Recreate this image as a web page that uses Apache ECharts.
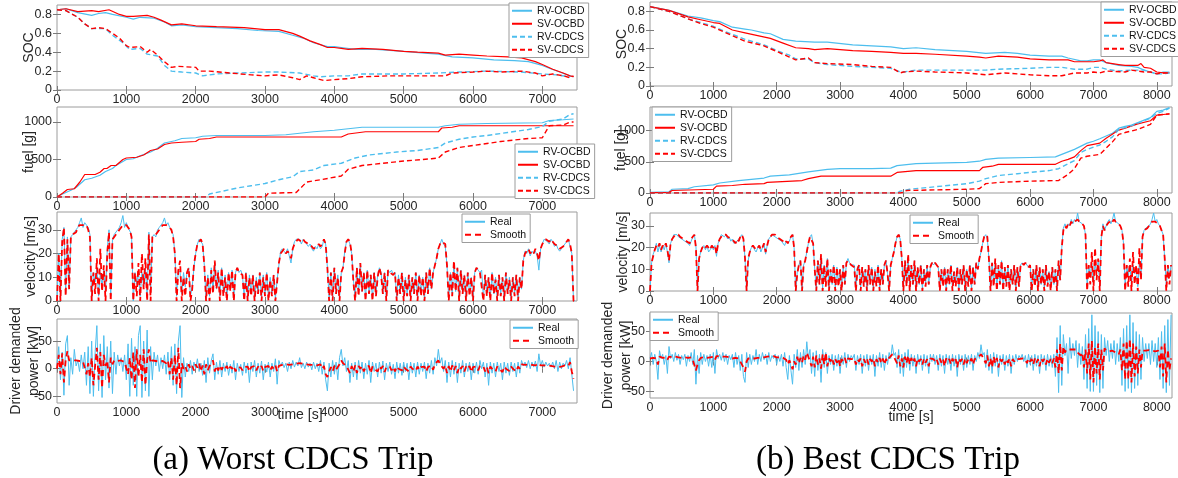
<!DOCTYPE html>
<html><head><meta charset="utf-8">
<script src="https://cdn.jsdelivr.net/npm/echarts@6/dist/echarts.min.js"></script>
<style>html,body{margin:0;padding:0;background:#fff}#c{width:1178px;height:478px}</style>
</head><body><div id="c"></div><script>
// ---------- tick labels ----------
const X_TICKS_A = [0,1000,2000,3000,4000,5000,6000,7000];
const X_TICKS_B = [0,1000,2000,3000,4000,5000,6000,7000,8000];
const SOC_TICKS = [0,0.2,0.4,0.6,0.8];
const FUEL_TICKS = [0,500,1000];
const VEL_TICKS = [0,10,20,30];
const POW_TICKS = [-50,0,50];

// ---------- (a) Worst CDCS trip : SOC [time s, SOC] ----------
const A_SOC_RV_OCBD = [[0,.85],[130,.86],[300,.82],[500,.79],[600,.81],[700,.82],[800,.80],[1000,.77],[1100,.75],[1200,.77],[1400,.76],[1550,.72],[1650,.68],[1800,.69],[2000,.67],[2300,.66],[2600,.65],[2900,.63],[3200,.62],[3400,.58],[3550,.55],[3700,.50],[3900,.46],[4000,.46],[4100,.45],[4300,.43],[4600,.43],[5000,.41],[5300,.39],[5500,.38],[5700,.35],[6000,.34],[6300,.32],[6600,.31],[6800,.30],[7000,.26],[7100,.23],[7250,.19],[7400,.15],[7450,.14]];
const A_SOC_SV_OCBD = [[0,.85],[130,.86],[300,.83],[500,.84],[600,.83],[750,.85],[900,.80],[1000,.78],[1100,.78],[1300,.79],[1400,.77],[1500,.74],[1650,.69],[1800,.70],[2000,.68],[2300,.67],[2700,.66],[3000,.64],[3200,.64],[3400,.60],[3500,.57],[3650,.52],[3800,.48],[3900,.45],[4000,.45],[4100,.44],[4200,.43],[4400,.44],[4700,.43],[5000,.41],[5200,.40],[5500,.39],[5600,.37],[5800,.38],[6000,.37],[6200,.36],[6500,.35],[6700,.34],[6900,.30],[7000,.27],[7150,.22],[7300,.18],[7400,.15],[7450,.14]];
const A_SOC_RV_CDCS = [[0,.85],[130,.84],[300,.77],[400,.70],[500,.65],[700,.65],[800,.58],[950,.50],[1050,.43],[1200,.44],[1300,.38],[1450,.36],[1550,.26],[1650,.20],[1800,.19],[2000,.18],[2100,.15],[2300,.17],[2600,.18],[3000,.19],[3200,.19],[3500,.18],[3700,.15],[3800,.14],[4000,.15],[4200,.15],[4400,.17],[5000,.17],[5500,.18],[5800,.19],[6200,.20],[6700,.19],[7000,.17],[7200,.16],[7400,.14]];
const A_SOC_SV_CDCS = [[0,.85],[130,.84],[300,.77],[400,.70],[500,.65],[600,.66],[700,.65],[800,.60],[900,.55],[1000,.47],[1050,.45],[1200,.46],[1300,.40],[1350,.43],[1450,.37],[1550,.30],[1650,.24],[1750,.25],[2000,.24],[2050,.20],[2200,.20],[2500,.18],[2800,.16],[3000,.15],[3200,.16],[3400,.13],[3500,.11],[3600,.15],[3700,.13],[3850,.10],[4000,.11],[4200,.12],[4400,.14],[4800,.15],[5200,.15],[5600,.15],[5700,.18],[6000,.19],[6200,.20],[6400,.19],[6700,.20],[6900,.18],[7000,.15],[7150,.17],[7300,.15],[7400,.13],[7450,.15]];

// ---------- (a) fuel [g] ----------
const A_FUEL_RV_OCBD = [[0,0],[80,40],[200,90],[280,130],[400,230],[500,250],[620,290],[700,340],[800,380],[850,420],[1000,500],[1100,510],[1200,550],[1350,600],[1450,650],[1550,720],[1700,750],[1800,780],[2000,790],[2100,810],[2300,820],[3000,820],[3300,830],[3500,850],[3700,870],[4000,890],[4200,910],[4400,930],[5500,930],[5600,950],[5800,970],[6200,980],[7000,990],[7100,1020],[7300,1030],[7450,1040]];
const A_FUEL_SV_OCBD = [[0,0],[80,50],[150,100],[250,110],[330,200],[400,300],[550,300],[620,330],[680,380],[720,380],[780,420],[850,420],[950,500],[1000,520],[1150,530],[1250,560],[1350,620],[1450,640],[1550,700],[1650,720],[1800,730],[2000,740],[2050,770],[2200,780],[2300,800],[4100,800],[4200,840],[4450,870],[5500,870],[5550,920],[5700,930],[5800,950],[7450,950]];
const A_FUEL_RV_CDCS = [[0,0],[2150,0],[2200,40],[2400,80],[2600,120],[2800,150],[3000,180],[3200,230],[3400,270],[3500,340],[3700,360],[3850,420],[4100,450],[4300,520],[4500,560],[4700,580],[4900,600],[5200,620],[5500,660],[5600,720],[5800,770],[6000,800],[6200,820],[6500,860],[6800,900],[7000,940],[7100,1010],[7300,1040],[7400,1100],[7450,1110]];
const A_FUEL_SV_CDCS = [[0,0],[3000,0],[3050,50],[3450,60],[3600,200],[3800,230],[4100,280],[4200,370],[4400,420],[4700,450],[5000,480],[5400,510],[5500,520],[5600,600],[5800,660],[6100,700],[6400,740],[6800,780],[7000,790],[7100,950],[7300,960],[7400,1000],[7450,1000]];

// ---------- (a) velocity [m/s], one value every 25 s ----------
const A_VEL_REAL = [0,20,0,26, 31,3,27,6, 27,28,29,30, 31,33,35,31, 33,32,31,28, 0,12,8,14, 2,12,6,13, 3,22,30,2, 26,28,28,30, 31,33,36,31, 33,31,31,28, 0,12,7,13, 2,12,6,14, 2,29,3,27, 28,27,30,31, 32,33,35,32, 33,31,31,28, 20,2,13,12, 3,12,6,12, 14,2,6,14, 20,24,26,26, 24,15,1,11, 2,14,4,16, 5,13,2,14, 3,11,1,12, 5,13,1,12, 14,12,13,11, 1,12,1,11, 3,11,1,10, 3,12,1,11, 3,12,1,10, 3,11,1,9, 15,21,22,21, 20,22,19,16, 22,25,26,26, 26,24,26,25, 25,23,24,22, 21,23,22,24, 22,23,26,24, 14,1,12,1, 14,3,11,1, 12,14,21,25, 26,24,20,9, 1,14,3,16, 4,12,1,13, 4,11,1,12, 3,11,14,12, 3,12,1,13, 12,13,11,12, 1,11,3,12, 1,10,3,11, 1,10,3,12, 1,11,3,10, 1,12,3,14, 5,12,15,18, 22,24,26,24, 23,15,1,12, 3,16,4,14, 1,13,3,11, 1,12,3,10, 1,12,14,13, 12,13,1,11, 3,10,1,12, 3,10,1,11, 3,10,1,12, 3,10,1,10, 3,11,1,10, 5,17,21,20, 22,19,21,20, 21,19,13,22, 24,26,26,25, 24,26,25,23, 24,22,21,22, 22,24,25,26, 23,20,0,0];
const A_VEL_SMOOTH = [0,20,0,25, 31,2,26,5, 27,28,28,29, 31,32,32,32, 32,32,30,27, 0,12,3,18, 0,22,4,15, 0,20,29,0, 26,27,28,29, 30,31,32,32, 32,31,30,27, 0,12,2,16, 0,20,5,18, 0,28,0,27, 27,28,29,30, 31,32,32,32, 32,31,30,27, 20,0,13,17, 0,10,2,12, 14,0,5,15, 20,24,25,26, 24,15,0,10, 0,13,3,17, 5,12,0,14, 2,10,0,12, 4,13,0,12, 14,12,12,11, 0,12,0,10, 2,11,0,9, 3,12,0,10, 2,12,0,9, 2,11,0,8, 16,20,21,22, 20,21,20,18, 22,24,25,26, 26,25,26,25, 25,24,24,23, 22,22,23,24, 23,24,26,24, 14,0,12,0, 14,3,10,0, 12,14,20,25, 26,25,20,8, 0,14,2,16, 4,12,0,13, 3,11,0,12, 2,10,14,11, 3,12,0,13, 12,12,11,12, 0,10,3,12, 0,9,2,11, 0,10,3,12, 0,11,2,10, 0,12,3,14, 5,12,15,18, 22,24,25,25, 24,15,0,12, 2,17,4,14, 0,13,3,11, 0,12,2,10, 0,12,14,13, 12,12,0,11, 2,10,0,12, 3,9,0,11, 2,10,0,12, 3,9,0,10, 2,11,0,10, 5,17,20,21, 22,20,21,20, 22,20,17,22, 24,25,26,26, 25,26,25,24, 24,23,22,22, 23,24,25,26, 24,20,0,0];

// ---------- (a) driver demanded power [kW], one value every 25 s ----------
const A_POW_REAL = [5,40,-20,30, -48,45,60,-30, 20,-10,35,5, 15,-5,25,0, 30,-30,40,-45, 50,-50,30,78, -40,45,-52,60, -20,40,-35,50, -45,30,-10,25, 5,20,-5,25, -20,45,-50,55, -30,40,-50,60, 78,-52,50,-40, 70,-50,40,-20, 30,5,25,-5, 20,0,25,-10, 30,-20,40,-30, 45,-45,50,78, -52,20,-15,10, -5,15,-10,12, 0,18,-5,10, -12,15,-25,20, -8,15,27,-20, 12,-10,15,-15, 10,-5,12,-12, 8,-8,15,-20, 10,-5,8,-12, 12,-8,10,-25, 12,-5,15,-15, 10,-8,14,-20, 8,-6,12,-15, 10,-5,18,-28, 15,5,12,2, 10,-5,12,0, 15,3,12,5, 20,2,10,0, 12,3,10,-2, 12,0,10,-5, 15,-10,12,-20, -40,10,-15,15, -10,12,-20,20, 35,5,20,-5, 15,-25,10,-15, 12,-20,15,-8, 12,-18,10,-10, 15,-25,12,-5, 10,-15,12,-8, 14,-20,10,-5, 12,-10,8,-18, 12,-8,10,-12, 12,-5,10,-20, 12,-8,10,-15, 12,-10,10,-5, 12,-18,10,-8, 15,-10,20,5, 35,10,20,-5, 15,-25,12,-15, 15,-10,12,-25, 10,-8,15,-15, 10,-5,12,-20, 10,-8,12,-10, 15,0,12,-15, 10,-30,12,-8, 10,-15,12,-5, 10,-20,12,-8, 10,-12,12,-5, 10,-15,12,-8, 15,5,12,2, 15,0,12,3, 14,-5,27,5, 15,3,12,5, 10,3,12,0, 15,-5,12,0, 10,5,15,0, 20,-10,-40];
const A_POW_SMOOTH = [0,25,-10,28, -25,15,32,15, 12,15,14,15, 16,14,16,13, 12,-10,10,-15, 20,-30,5,38, -20,30,-35,25, 5,15,-25,20, 8,15,12,14, 13,15,14,12, 10,-10,20,-20, 30,-35,35,-15, 25,-25,35,-30, 15,35,10,15, 12,14,12,13, 12,14,12,10, 15,-10,20,-20, 25,-30,38,-35, 10,0,5,-5, 8,0,5,-3, 8,2,10,-5, 6,-10,8,-3, 5,10,15,-5, 5,-3,6,-2, 4,0,5,-3, 4,0,5,-5, 3,0,2,-3, 3,0,4,-5, 3,0,5,-3, 4,0,5,-4, 3,0,5,-3, 4,0,6,-5, 5,8,7,6, 8,5,7,5, 8,6,9,8, 10,8,9,7, 8,6,7,5, 7,5,6,4, 8,0,5,-10, -15,-5,3,-5, 5,-2,3,8, 15,10,12,5, 8,-8,5,-5, 6,-8,5,0, 5,-5,3,0, 5,-8,4,0, 3,-5,5,0, 5,-6,3,0, 4,-3,3,-5, 4,0,3,-3, 4,0,3,-5, 4,0,3,-4, 4,-2,3,0, 4,-5,3,0, 6,-2,8,5, 15,8,10,0, 6,-8,5,-5, 6,-3,5,-8, 4,0,5,-5, 4,0,5,-6, 3,0,4,-3, 5,2,4,-5, 3,-8,4,0, 3,-5,4,0, 3,-6,4,0, 3,-4,4,0, 3,-5,4,0, 8,6,7,5, 8,5,7,5, 6,3,10,6, 8,6,7,6, 7,5,6,4, 7,3,6,4, 5,6,8,5, 12,-5,-18];

// ---------- (b) Best CDCS trip : SOC ----------
const B_SOC_RV_OCBD = [[0,.85],[300,.81],[600,.75],[800,.73],[1000,.70],[1100,.69],[1300,.63],[1500,.61],[1600,.60],[1800,.57],[1900,.56],[2100,.50],[2300,.48],[2600,.47],[2800,.47],[3200,.44],[3500,.43],[3800,.42],[4000,.40],[4200,.41],[4500,.39],[5000,.37],[5300,.35],[5600,.36],[5800,.35],[6000,.33],[6300,.32],[6500,.32],[6600,.30],[6800,.27],[6900,.27],[7000,.28],[7100,.28],[7200,.25],[7400,.22],[7600,.21],[7700,.20],[7800,.17],[7900,.15],[8000,.13],[8100,.15],[8200,.15]];
const B_SOC_SV_OCBD = [[0,.85],[300,.81],[600,.74],[800,.71],[1000,.68],[1100,.67],[1300,.60],[1500,.57],[1700,.54],[1900,.51],[2100,.46],[2300,.41],[2500,.40],[2600,.39],[2800,.40],[3000,.39],[3200,.38],[3500,.37],[3800,.36],[4000,.35],[4200,.35],[4500,.34],[5000,.32],[5200,.31],[5300,.30],[5500,.32],[5800,.31],[6000,.29],[6300,.28],[6600,.28],[6700,.26],[7000,.26],[7100,.27],[7150,.28],[7200,.25],[7400,.23],[7500,.22],[7700,.22],[7750,.24],[7800,.20],[7900,.19],[8000,.15],[8100,.14],[8200,.14]];
const B_SOC_RV_CDCS = [[0,.85],[300,.80],[600,.72],[800,.68],[1000,.64],[1200,.58],[1500,.50],[1800,.44],[2000,.38],[2200,.33],[2300,.29],[2500,.29],[2600,.25],[2800,.23],[3200,.21],[3500,.20],[3800,.19],[3950,.15],[4000,.15],[4200,.17],[4500,.17],[5000,.17],[5300,.17],[5500,.18],[6000,.19],[6300,.20],[6500,.20],[6700,.18],[6900,.18],[7000,.20],[7100,.20],[7200,.18],[7400,.16],[7600,.17],[7800,.17],[8000,.13],[8100,.13],[8200,.14]];
const B_SOC_SV_CDCS = [[0,.85],[300,.80],[600,.72],[800,.67],[1000,.63],[1200,.57],[1500,.48],[1800,.43],[2000,.37],[2200,.31],[2300,.28],[2500,.30],[2600,.25],[2800,.24],[3200,.23],[3500,.21],[3800,.20],[3950,.14],[4000,.15],[4200,.16],[4500,.15],[5000,.14],[5300,.12],[5600,.14],[6000,.12],[6300,.11],[6500,.11],[6700,.14],[6900,.14],[7000,.15],[7100,.14],[7200,.16],[7500,.15],[7600,.17],[7800,.15],[7900,.15],[8000,.13],[8100,.14],[8200,.14]];

// ---------- (b) fuel [g] ----------
const B_FUEL_RV_OCBD = [[0,10],[300,20],[350,60],[600,70],[700,100],[1000,130],[1100,160],[1400,200],[1600,220],[1800,240],[1900,270],[2200,290],[2500,340],[2800,380],[3000,390],[3500,390],[3800,400],[3900,440],[4200,470],[4500,480],[5000,490],[5200,510],[5300,540],[5500,560],[6000,570],[6400,580],[6500,620],[6600,660],[6700,700],[6900,800],[7000,830],[7100,870],[7300,960],[7400,1040],[7500,1070],[7600,1090],[7800,1170],[7900,1210],[8000,1310],[8100,1330],[8200,1370]];
const B_FUEL_SV_OCBD = [[0,5],[300,10],[350,40],[1000,60],[1050,110],[1300,120],[1500,140],[1800,150],[1850,170],[2400,200],[2500,230],[2700,270],[3800,270],[3900,330],[4200,360],[5200,360],[5250,410],[5400,430],[5500,460],[6400,460],[6500,510],[6600,540],[6700,580],[6800,680],[6900,760],[7100,800],[7200,880],[7400,1010],[7500,1040],[7700,1110],[7900,1160],[8000,1250],[8100,1260],[8200,1270]];
const B_FUEL_RV_CDCS = [[0,0],[3900,0],[3950,30],[4000,40],[4100,60],[4500,100],[5000,150],[5200,190],[5300,230],[5500,280],[5800,310],[6000,330],[6300,360],[6450,390],[6600,470],[6700,520],[6800,650],[6900,700],[7100,770],[7200,830],[7300,900],[7400,1020],[7500,1050],[7600,1080],[7700,1120],[7900,1200],[8000,1280],[8100,1310],[8200,1360]];
const B_FUEL_SV_CDCS = [[0,0],[3950,0],[4000,10],[4050,40],[4500,50],[5000,60],[5200,70],[5300,150],[5500,170],[6000,190],[6450,200],[6600,300],[6700,390],[6800,560],[6900,590],[7100,620],[7200,720],[7300,820],[7400,940],[7500,970],[7700,1020],[7800,1060],[7900,1100],[8000,1250],[8100,1260],[8200,1270]];

// ---------- (b) velocity [m/s], one value every 25 s ----------
const B_VEL_REAL = [0,13,17,19, 22,18,21,18, 21,19,22,18, 13,22,24,26, 26,26,25,25, 24,24,23,23, 22,21,23,25, 26,21,0,15, 18,20,21,19, 21,18,19,21, 19,21,16,22, 24,26,26,25, 26,24,25,23, 24,22,22,23, 23,25,26,24, 15,0,14,18, 20,21,19,18, 20,21,18,20, 22,17,21,24, 25,26,26,25, 25,24,24,23, 23,21,23,22, 23,25,26,20, 0,9,12,14, 1,12,14,18, 22,25,26,22, 10,1,14,3, 16,1,12,3, 15,1,10,3, 12,1,11,3, 10,1,12,3, 13,15,13,12, 12,12,1,11, 12,1,11,3, 10,1,12,3, 11,1,10,3, 12,1,10,3, 12,14,8,1, 12,15,18,22, 25,26,24,15, 1,14,3,16, 1,12,3,14, 1,11,3,12, 1,10,3,12, 3,11,13,12, 13,12,11,1, 10,3,11,1, 10,3,12,1, 9,3,11,1, 10,3,12,1, 10,3,12,1, 11,3,13,10, 15,18,22,25, 26,24,15,0, 13,3,14,1, 12,3,14,1, 11,3,12,1, 10,3,12,1, 11,3,12,13, 12,13,12,11, 12,1,10,3, 12,1,11,3, 10,1,12,3, 9,1,11,3, 10,1,14,5, 20,29,31,29, 31,30,33,31, 33,32,36,32, 32,31,30,26, 2,12,7,13, 3,13,8,14, 2,25,31,28, 30,32,33,31, 33,36,32,32, 31,30,28,22, 2,12,7,12, 3,12,8,11, 2,13,6,25, 28,29,29,30, 31,33,36,32, 33,31,30,28, 26,15,2,12, 6,12];
const B_VEL_SMOOTH = [0,13,16,19, 21,20,22,19, 21,20,22,19, 14,22,24,25, 26,26,26,25, 25,24,24,23, 23,22,24,25, 26,20,0,15, 18,20,21,20, 21,20,19,21, 20,21,17,22, 24,25,26,26, 26,25,25,24, 24,23,22,24, 23,25,26,24, 15,0,15,18, 20,21,20,19, 20,21,19,20, 22,18,21,24, 25,26,26,26, 25,25,24,24, 23,22,23,22, 24,25,26,20, 0,8,12,14, 0,12,14,18, 22,25,25,22, 10,0,14,3, 17,0,12,2, 15,0,10,3, 12,0,11,2, 10,0,12,3, 13,14,13,12, 12,11,0,10, 12,0,11,2, 10,0,12,3, 11,0,9,2, 12,0,10,3, 12,14,8,0, 12,15,18,22, 25,26,24,15, 0,14,2,17, 0,12,3,14, 0,11,3,12, 0,10,2,12, 3,11,13,12, 13,12,11,0, 10,2,11,0, 10,3,12,0, 9,2,11,0, 10,3,12,0, 10,2,12,0, 11,3,13,10, 15,18,22,25, 26,25,15,0, 13,2,15,0, 12,3,14,0, 11,2,12,0, 10,3,12,0, 11,2,12,13, 12,13,12,11, 12,0,10,2, 12,0,11,3, 10,0,12,2, 9,0,11,3, 10,0,14,5, 20,28,30,29, 31,30,32,31, 32,32,33,32, 32,31,30,26, 0,12,3,18, 0,20,5,15, 0,25,30,28, 30,31,32,31, 32,33,32,32, 31,30,28,22, 0,12,2,15, 0,18,3,12, 0,20,5,25, 28,28,29,30, 31,32,32,32, 32,31,30,28, 26,15,0,12, 3,12];

// ---------- (b) driver demanded power [kW], one value every 25 s ----------
const B_POW_REAL = [5,15,-5,12, 0,-30,18,5, 12,-5,10,-20, 25,5,12,0, 15,2,12,-5, 10,3,12,-8, 10,0,15,-5, 20,-38,10,-20, 15,-5,12,0, 10,-8,12,-10, 15,-20,20,5, 12,2,15,0, 12,-5,10,3, 12,-10,15,-5, 10,-15,12,-25, -35,15,-10,12, -5,10,0,20, -5,12,0,15, 3,12,-5,15, 0,10,5,12, -5,10,0,12, -8,15,-10,-30, 10,-15,-38,12, -10,20,-15,15, -10,20,-5,33, 5,20,-20,15, -25,18,-15,12, -35,20,-10,15, -20,10,-5,12, -15,10,-8,12, -20,10,-5,15, -10,12,0,10, 5,12,-15,10, -5,12,-20,10, -8,12,-15,10, -5,12,-25,10, -8,15,-10,12, -15,10,-5,15, 5,28,10,15, -10,20,-20,12, -25,15,-10,20, -15,12,-8,10, -20,12,-5,10, -15,12,-8,10, -20,12,0,12, -5,10,-15,12, -8,10,-20,12, -5,10,-15,12, -8,10,-25,12, -5,10,-15,12, -10,10,-5,12, -15,10,0,15, 5,28,10,15, -10,20,-15,12, -20,15,-8,12, -25,10,-5,12, -15,10,-8,12, -20,10,-5,12, 0,10,5,12, 0,10,-10,12, -5,10,-15,12, -8,10,-20,12, -5,10,-15,12, -8,10,-10,12, -25,40,-52,60, -40,45,10,30, -20,40,5,30, 10,35,-10,30, -5,25,-30,45, -45,55,-50,78, -50,60,-40,50, -52,45,-45,40, 10,35,0,30, 5,35,-5,30, 0,40,-40,55, -50,60,-45,78, -52,65,-45,50, -40,45,-30,40, 0,30,5,30, -5,35,0,30, -10,40,-30,50, -45,60,-52,70, -40,78];
const B_POW_SMOOTH = [5,8,6,7, 5,-5,8,7, 6,5,7,3, 8,6,7,5, 8,6,7,5, 6,5,7,4, 6,5,7,3, 5,-15,-5,2, 6,5,7,5, 6,4,7,5, 8,3,9,8, 9,8,8,7, 8,6,7,6, 5,3,6,4, 5,0,3,-10, -17,0,5,6, 5,6,5,8, 6,7,6,8, 7,9,8,10, 9,8,9,8, 7,8,7,8, 6,7,3,-5, 2,-5,-13,0, -5,8,-3,6, -2,10,3,15, 8,10,-8,8, -10,10,-5,5, -12,12,-5,15, -8,5,0,6, -5,4,-2,5, -8,4,0,6, -3,5,2,4, 3,5,-5,4, 0,5,-8,4, -2,5,-5,4, 0,5,-8,4, -2,6,-3,5, -5,4,0,6, 3,12,8,10, -3,10,-8,5, -10,8,-3,10, -5,6,-2,5, -8,5,0,4, -5,5,-2,4, -8,5,2,4, 0,4,-5,5, -2,4,-8,5, 0,4,-5,5, -2,4,-10,5, 0,4,-5,5, -3,4,0,5, -5,4,2,6, 4,12,8,10, -3,10,-8,5, -10,8,-3,6, -10,4,0,5, -5,4,-2,5, -8,4,0,5, 2,4,3,5, 2,4,-3,5, 0,4,-5,5, -2,4,-8,5, 0,4,-5,5, -2,4,-3,5, -10,20,-20,30, -15,25,15,20, 18,20,18,20, 19,20,15,18, 10,15,-10,20, -20,30,-30,35, -35,25,-20,30, -30,20,-15,22, 18,20,17,20, 18,19,15,18, 12,20,-15,30, -30,35,-30,38, -35,30,-25,25, -20,20,-10,18, 20,18,20,19, 20,18,19,17, 15,18,-10,25, -25,30,-35,20, -15,5];

// ---------- drawing ----------
const DT = 25; // sampling step of the velocity / power records [s]
const timed = arr => arr.map((v, i) => [i * DT, v]);
const FONT = '"Liberation Sans", Arial, Helvetica, sans-serif';
const BLUE = '#4DBEEE', RED = '#FF0000', FRAME = '#9c9c9c', TXT = '#262626';
const STYLE = {
  'RV-OCBD': {color: BLUE, width: 1.2, type: 'solid'},
  'SV-OCBD': {color: RED, width: 1.2, type: 'solid'},
  'RV-CDCS': {color: BLUE, width: 1.4, type: [5, 3]},
  'SV-CDCS': {color: RED, width: 1.4, type: [5, 3]},
  'Real':    {color: BLUE, width: 1, type: 'solid'},
  'Smooth':  {color: RED, width: 1.8, type: [6, 4]}
};
const STRAT = ['RV-OCBD', 'SV-OCBD', 'RV-CDCS', 'SV-CDCS'];
const VS = ['Real', 'Smooth'];

const panels = [
  {g:[57,5,520,85], xmax:7500, xt:X_TICKS_A, y:[0,0.9], yt:SOC_TICKS, name:'SOC', gap:19, lg:[509,3],
   names:STRAT, data:[A_SOC_RV_OCBD, A_SOC_SV_OCBD, A_SOC_RV_CDCS, A_SOC_SV_CDCS]},
  {g:[57,107,520,90], xmax:7500, xt:X_TICKS_A, y:[0,1200], yt:FUEL_TICKS, name:'fuel [g]', gap:19, lg:[515,144],
   names:STRAT, data:[A_FUEL_RV_OCBD, A_FUEL_SV_OCBD, A_FUEL_RV_CDCS, A_FUEL_SV_CDCS]},
  {g:[57,212,520,89], xmax:7500, xt:X_TICKS_A, y:[0,37.5], yt:VEL_TICKS, name:'velocity [m/s]', gap:17, lg:[462,214],
   names:VS, data:[timed(A_VEL_REAL), timed(A_VEL_SMOOTH)]},
  {g:[57,319,520,84], xmax:7500, xt:X_TICKS_A, y:[-62,90], yt:POW_TICKS, name:'Driver demanded\npower [kW]', gap:14, lg:[510,320],
   names:VS, data:[timed(A_POW_REAL), timed(A_POW_SMOOTH)]},
  {g:[650,2,522,84], xmax:8240, xt:X_TICKS_B, y:[0,0.9], yt:SOC_TICKS, name:'SOC', gap:19, lg:[1101,2],
   names:STRAT, data:[B_SOC_RV_OCBD, B_SOC_SV_OCBD, B_SOC_RV_CDCS, B_SOC_SV_CDCS]},
  {g:[650,107,522,86], xmax:8240, xt:X_TICKS_B, y:[0,1380], yt:FUEL_TICKS, name:'fuel [g]', gap:20, lg:[652,107],
   names:STRAT, data:[B_FUEL_RV_OCBD, B_FUEL_SV_OCBD, B_FUEL_RV_CDCS, B_FUEL_SV_CDCS]},
  {g:[650,213,522,78], xmax:8240, xt:X_TICKS_B, y:[0,36], yt:VEL_TICKS, name:'velocity [m/s]', gap:18, lg:[910,215],
   names:VS, data:[timed(B_VEL_REAL), timed(B_VEL_SMOOTH)]},
  {g:[650,313,522,85], xmax:8240, xt:X_TICKS_B, y:[-61,81], yt:POW_TICKS, name:'Driver demanded\npower [kW]', gap:15, lg:[650,312],
   names:VS, data:[timed(B_POW_REAL), timed(B_POW_SMOOTH)]}
];

const plain = v => String(v);
const grid = [], xAxis = [], yAxis = [], series = [], legend = [];
panels.forEach((p, i) => {
  grid.push({left:p.g[0], top:p.g[1], width:p.g[2], height:p.g[3], show:true, borderColor:FRAME, borderWidth:1,
             backgroundColor:'#fff', containLabel:false, outerBoundsMode:'none'});
  const tick = vals => ({show:true, inside:true, length:4, customValues:vals, lineStyle:{color:'#7a7a7a', width:1}});
  xAxis.push({type:'value', gridIndex:i, min:0, max:p.xmax, position:'bottom',
    axisLine:{show:false}, splitLine:{show:false}, axisTick:tick(p.xt),
    axisLabel:{customValues:p.xt, formatter:plain, fontSize:12.5, fontFamily:FONT, color:TXT, margin:3}});
  xAxis.push({type:'value', gridIndex:i, min:0, max:p.xmax, position:'top',
    axisLine:{show:false}, splitLine:{show:false}, axisTick:tick(p.xt), axisLabel:{show:false}});
  yAxis.push({type:'value', gridIndex:i, min:p.y[0], max:p.y[1], position:'left',
    axisLine:{show:false}, splitLine:{show:false}, axisTick:tick(p.yt),
    axisLabel:{customValues:p.yt, formatter:plain, fontSize:12.5, fontFamily:FONT, color:TXT, margin:5},
    name:p.name, nameLocation:'middle', nameGap:p.gap, nameMoveOverlap:false,
    nameTextStyle:{fontSize:14, fontFamily:FONT, color:TXT, lineHeight:18}});
  yAxis.push({type:'value', gridIndex:i, min:p.y[0], max:p.y[1], position:'right',
    axisLine:{show:false}, splitLine:{show:false}, axisTick:tick(p.yt), axisLabel:{show:false}});
  p.names.forEach((nm, k) => {
    const s = STYLE[nm];
    series.push({type:'line', name:nm, xAxisIndex:2*i, yAxisIndex:2*i, data:p.data[k],
      symbol:'none', showSymbol:false, silent:true, animation:false, clip:true,
      lineStyle:{color:s.color, width:s.width, type:s.type}, itemStyle:{color:s.color}, z:2+k});
  });
  legend.push({data:p.names, orient:'vertical', left:p.lg[0], top:p.lg[1], selectedMode:false,
    itemWidth:20, itemHeight:9, itemGap:1.5, padding:[2,4,2,2], backgroundColor:'#fff',
    borderColor:FRAME, borderWidth:1, borderRadius:0, itemStyle:{opacity:0, borderWidth:0},
    textStyle:{fontSize:10.5, fontFamily:FONT, color:'#111', lineHeight:11.5}, z:10});
});

const chart = echarts.init(document.getElementById('c'), null, {renderer:'canvas'});
const serif = '33px "Liberation Serif", "Times New Roman", serif';
chart.setOption({
  animation:false, backgroundColor:'#fff',
  grid, xAxis, yAxis, series, legend,
  graphic:[
    {type:'text', x:300, y:415, style:{text:'time [s]', font:'14px ' + FONT, fill:TXT, align:'center', verticalAlign:'middle', textAlign:'center', textVerticalAlign:'middle'}},
    {type:'text', x:911, y:417, style:{text:'time [s]', font:'14px ' + FONT, fill:TXT, align:'center', verticalAlign:'middle', textAlign:'center', textVerticalAlign:'middle'}},
    {type:'text', x:293, y:460, style:{text:'(a) Worst CDCS Trip', font:serif, fill:'#000', align:'center', verticalAlign:'middle', textAlign:'center', textVerticalAlign:'middle'}},
    {type:'text', x:888, y:460, style:{text:'(b) Best CDCS Trip', font:serif, fill:'#000', align:'center', verticalAlign:'middle', textAlign:'center', textVerticalAlign:'middle'}}
  ]
});
</script></body></html>
